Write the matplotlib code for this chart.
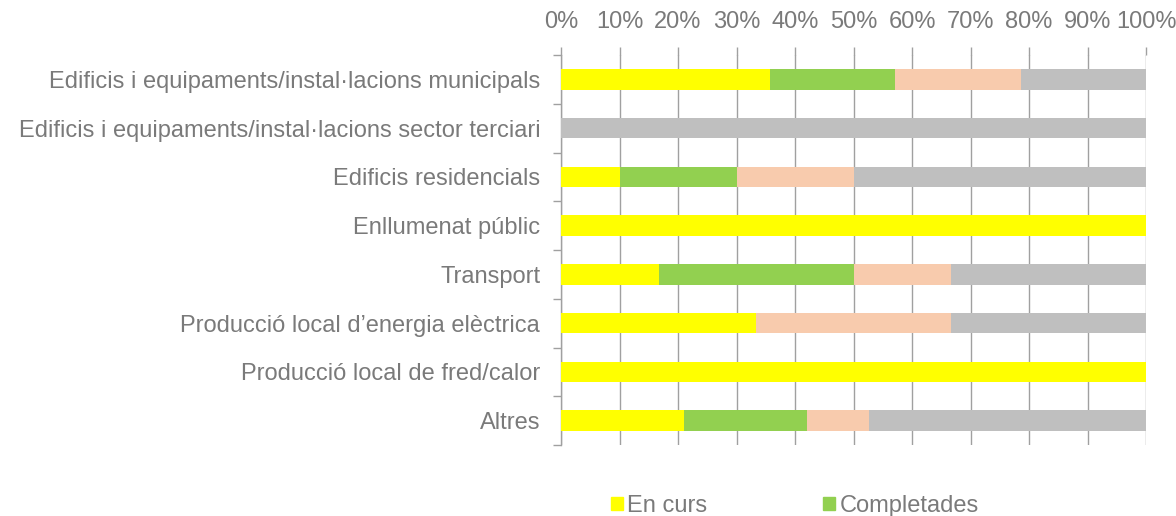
import matplotlib.pyplot as plt
import numpy as np
from matplotlib.patches import Patch

plt.rcParams['font.family'] = ['Liberation Sans', 'DejaVu Sans']

categories = [
    "Edificis i equipaments/instal·lacions municipals",
    "Edificis i equipaments/instal·lacions sector terciari",
    "Edificis residencials",
    "Enllumenat públic",
    "Transport",
    "Producció local d’energia elèctrica",
    "Producció local de fred/calor",
    "Altres",
]
# shares (fraction of actions) per state
en_curs = [5/14, 0.0, 0.10, 1.0, 1/6, 1/3, 1.0, 4/19]
completades = [3/14, 0.0, 0.20, 0.0, 2/6, 0.0, 0.0, 4/19]
tercer = [3/14, 0.0, 0.20, 0.0, 1/6, 1/3, 0.0, 2/19]
quart = [3/14, 1.0, 0.50, 0.0, 2/6, 1/3, 0.0, 9/19]

colors = ["#FFFF00", "#92D050", "#F8CBAD", "#BFBFBF"]
text_col = "#7A7A7A"
grid_col = "#A0A0A0"
fs = 17

fig = plt.figure(figsize=(11.76, 5.16), dpi=100)
ax = fig.add_axes([561/1176, 1 - 445/516, (1146 - 561)/1176, (445 - 55)/516])

y = np.arange(len(categories))
left = np.zeros(len(categories))
for vals, c in zip([en_curs, completades, tercer, quart], colors):
    ax.barh(y, vals, left=left, height=0.42, color=c, zorder=3)
    left += np.array(vals)

ax.set_xlim(0, 1)
ax.set_ylim(len(categories) - 0.5, -0.5)
ax.xaxis.tick_top()
ax.set_xticks(np.linspace(0, 1, 11))
ax.set_xticklabels([f"{i*10}%" for i in range(11)])
ax.grid(axis='x', color=grid_col, lw=1, zorder=0)
ax.set_yticks(y)
ax.set_yticklabels(categories)
ax.set_yticks(np.arange(-0.5, len(categories)), minor=True)
ax.tick_params(axis='y', which='major', length=0, pad=15, labelsize=fs, labelcolor=text_col)
ax.tick_params(axis='y', which='minor', length=6, color=grid_col, width=1)
ax.tick_params(axis='x', length=6, color=grid_col, width=1, pad=10, labelsize=fs, labelcolor=text_col)

for s in ['top', 'right', 'bottom']:
    ax.spines[s].set_visible(False)
ax.spines['left'].set_color(grid_col)
ax.spines['left'].set_linewidth(1)

handles = [Patch(color=colors[0], label="En curs"),
           Patch(color=colors[1], label="Completades")]
fig.legend(handles=handles, loc='center left', bbox_to_anchor=(592/1176, 1 - 506/516),
           ncol=2, frameon=False, fontsize=fs, labelcolor=text_col,
           handlelength=0.5, handleheight=0.5, handletextpad=0.2, columnspacing=4.9,
           borderpad=0.3)

fig.savefig("out.png", dpi=100)
